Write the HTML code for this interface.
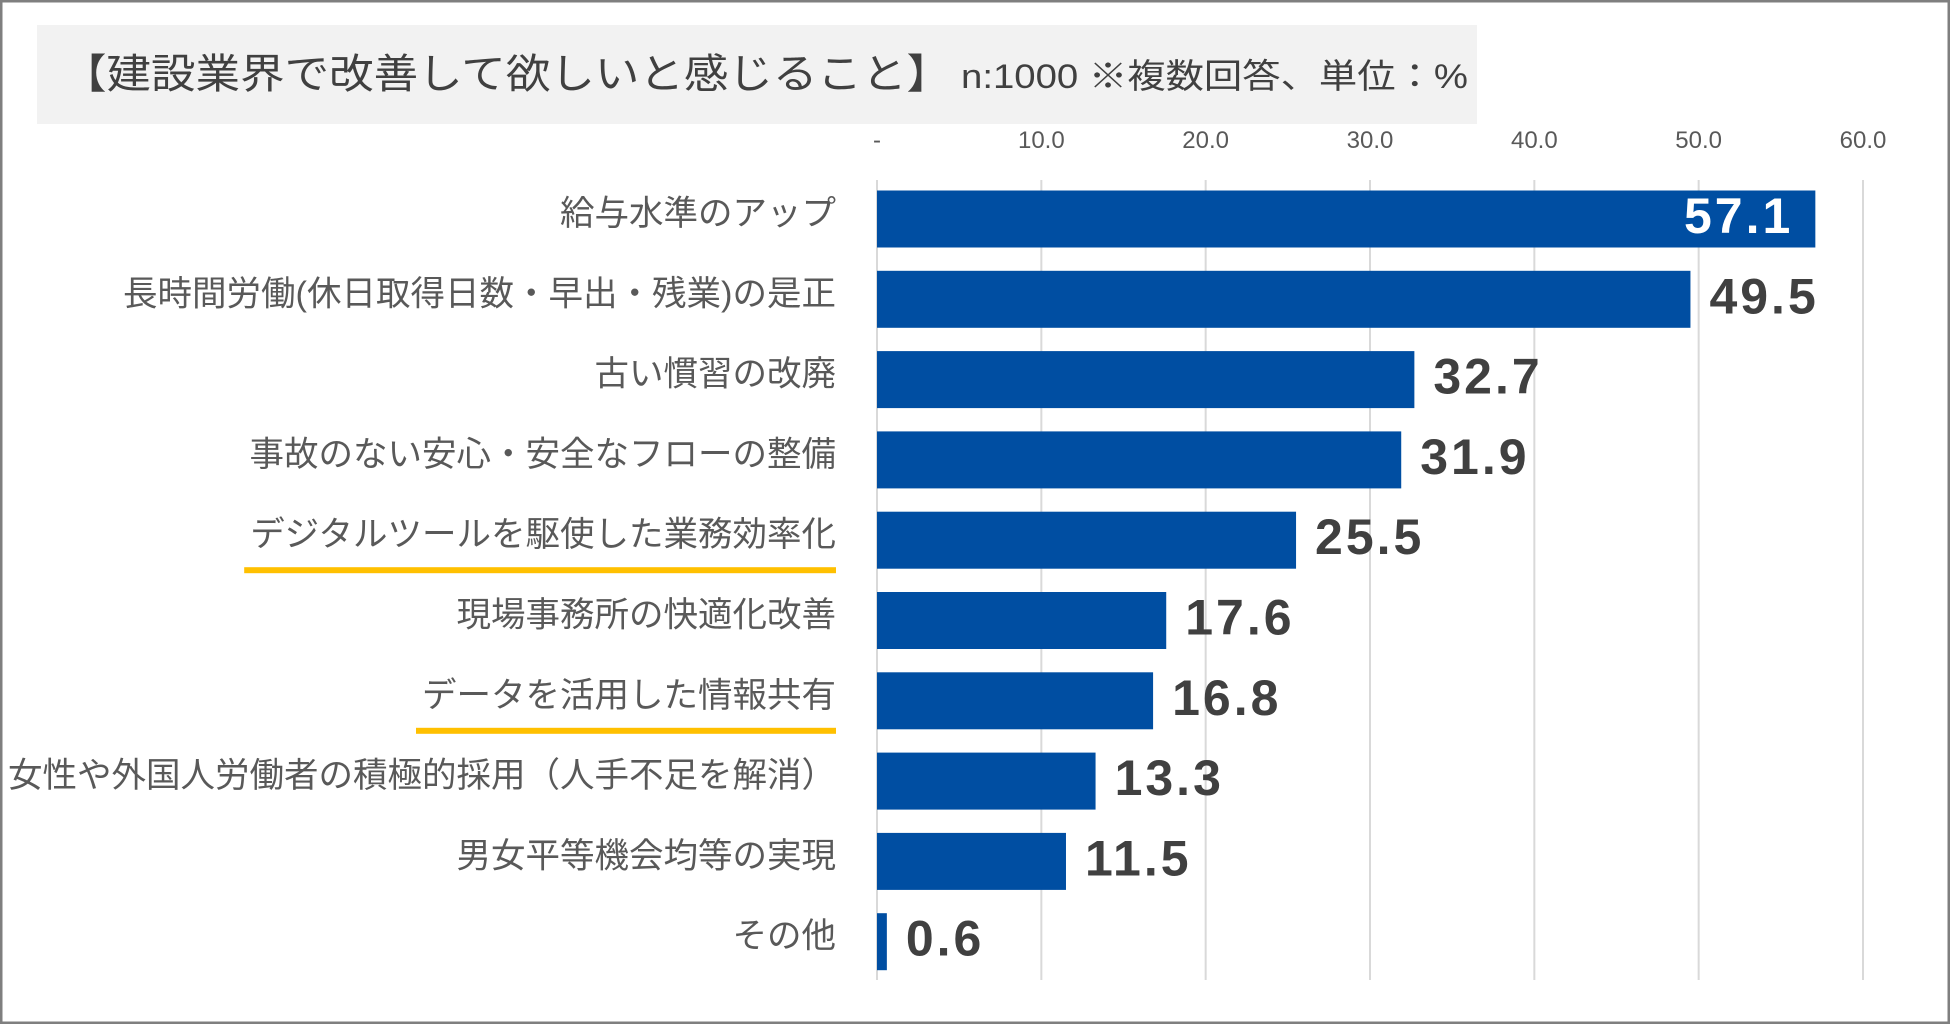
<!DOCTYPE html>
<html><head><meta charset="utf-8"><style>
html,body{margin:0;padding:0;background:#fff}
svg{display:block}
text{font-family:"Liberation Sans","Noto Sans CJK JP",sans-serif}
</style></head><body>
<svg id="chart" width="1950" height="1024" viewBox="0 0 1950 1024" xmlns="http://www.w3.org/2000/svg">
<rect x="1" y="1" width="1948" height="1022" fill="#fff" stroke="#7f7f7f" stroke-width="3"/>
<rect x="37" y="25" width="1440" height="99" fill="#f2f2f2"/>
<text x="62" y="88" fill="#404040" font-size="41" textLength="889" lengthAdjust="spacingAndGlyphs">【建設業界で改善して欲しいと感じること】</text>
<text x="961" y="88" fill="#404040" font-size="34" textLength="507" lengthAdjust="spacingAndGlyphs">n:1000 ※複数回答、単位：%</text>
<g id="grid"></g><g id="ticks"></g><g id="bars"></g><g id="labels"></g>
</svg>
<script>
const categories=["給与水準のアップ","長時間労働(休日取得日数・早出・残業)の是正","古い慣習の改廃","事故のない安心・安全なフローの整備","デジタルツールを駆使した業務効率化","現場事務所の快適化改善","データを活用した情報共有","女性や外国人労働者の積極的採用（人手不足を解消）","男女平等機会均等の実現","その他"];
const values=[57.1,49.5,32.7,31.9,25.5,17.6,16.8,13.3,11.5,0.6];
const tickValues=[0,10,20,30,40,50,60];
const tickLabels=["-","10.0","20.0","30.0","40.0","50.0","60.0"];
const highlighted=[4,6];
const NS="http://www.w3.org/2000/svg";
const x0=877,x1=1863,vmax=60;
const xs=v=>x0+(v/vmax)*(x1-x0);
const yc=i=>219+i*80.3;
const barH=57;
function mk(tag,attrs,parent,txt){const e=document.createElementNS(NS,tag);for(const k in attrs)e.setAttribute(k,attrs[k]);if(txt!==undefined)e.textContent=txt;document.getElementById(parent).appendChild(e);return e;}
tickValues.forEach((t,i)=>{
  const l=mk('line',{x1:xs(t),x2:xs(t),y1:180,y2:980,stroke:'#d9d9d9','stroke-width':2},'grid');
  
  
  const tx=mk('text',{x:xs(t),y:148,'text-anchor':'middle','font-size':24,fill:'#595959'},'ticks',tickLabels[i]);
  
  
});
categories.forEach((c,i)=>{
  const y=yc(i);
  const r=mk('rect',{x:x0,y:y-barH/2,width:xs(values[i])-x0,height:barH,fill:'#004ea2'},'bars');
  
  
  const lt=mk('text',{x:836,y:y+6,'text-anchor':'end','font-size':34.5,fill:'#595959'},'labels',c);
  
  
  if(highlighted.includes(i)){
    const bb=lt.getComputedTextLength();
    const u=mk('rect',{x:836-bb-6,y:y+27,width:bb+6,height:6,fill:'#ffc000'},'labels');
    
    
  }
  const inside=i===0;
  const vt=mk('text',{x:inside?xs(values[i])-22:xs(values[i])+19,y:y+14,'text-anchor':inside?'end':'start','font-size':50,'letter-spacing':3,'font-weight':'bold',fill:inside?'#fff':'#404040'},'labels',values[i].toFixed(1));
  
  
});
</script>
</body></html>
